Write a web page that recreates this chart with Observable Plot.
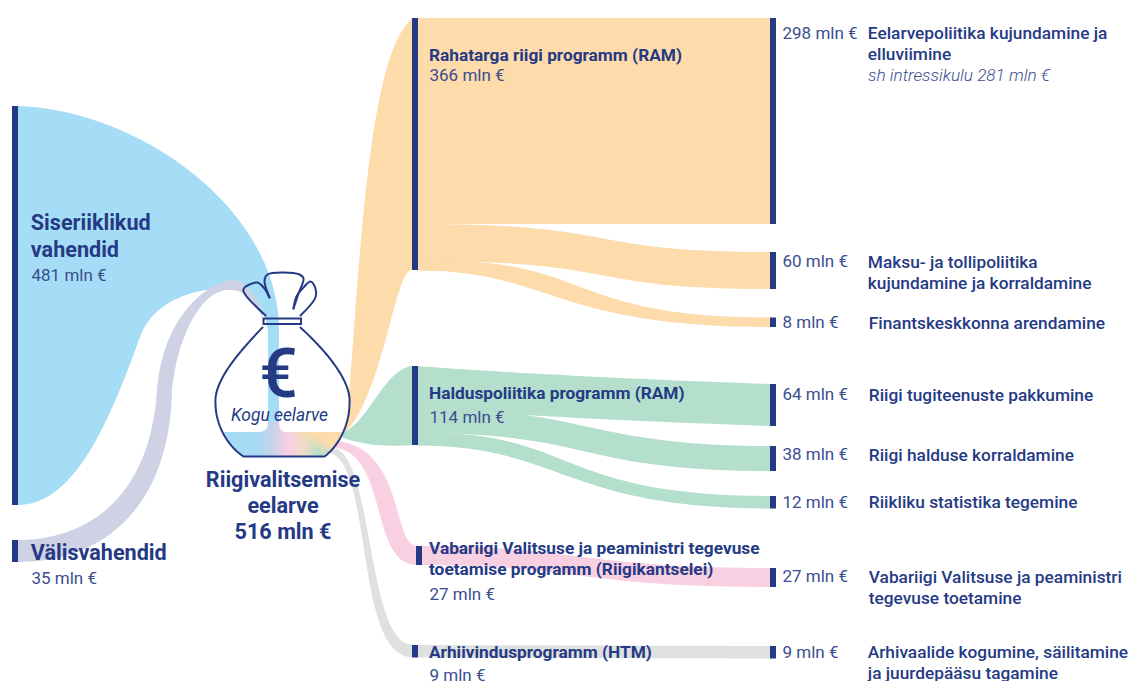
<!DOCTYPE html>
<html lang="et">
<head>
<meta charset="utf-8">
<style>html,body{margin:0;padding:0;background:#fff;overflow:hidden}svg{display:block}</style>
<script src="https://cdn.jsdelivr.net/npm/d3@7"></script>
<script src="https://cdn.jsdelivr.net/npm/@observablehq/plot@0.6"></script>
</head>
<body>
<script>
// ---------- Data (mln €) ----------
const budgetName = "Riigivalitsemise\neelarve";
const budgetTotal = 516;
const sourceNames = ["Siseriiklikud\nvahendid", "Välisvahendid"];
const sourceValues = [481, 35];
const programNames = [
  "Rahatarga riigi programm (RAM)",
  "Halduspoliitika programm (RAM)",
  "Vabariigi Valitsuse ja peaministri tegevuse\ntoetamise programm (Riigikantselei)",
  "Arhiivindusprogramm (HTM)"
];
const programValues = [366, 114, 27, 9];
const outcomeNames = [
  "Eelarvepoliitika kujundamine ja\nelluviimine",
  "Maksu- ja tollipoliitika\nkujundamine ja korraldamine",
  "Finantskeskkonna arendamine",
  "Riigi tugiteenuste pakkumine",
  "Riigi halduse korraldamine",
  "Riikliku statistika tegemine",
  "Vabariigi Valitsuse ja peaministri\ntegevuse toetamine",
  "Arhivaalide kogumine, säilitamine\nja juurdepääsu tagamine"
];
const outcomeValues = [298, 60, 8, 64, 38, 12, 27, 9];
const outcomeProgram = [0, 0, 0, 1, 1, 1, 2, 3];
const interestNote = "sh intressikulu 281 mln €";

// ---------- Layout (separate from the data) ----------
const W = 1131, H = 681;
const navy = "#253a84", textBlue = "#3b4d90";
const thickness = d3.scaleLinear(
  [8, 9, 12, 27, 35, 38, 60, 64, 114, 298, 366, 481],
  [9.5, 12.5, 12.5, 19, 22, 25, 37, 42, 79, 206, 252, 399]
);
const barW = 6;
const sourceX = 12, sourceTops = [106, 540];
const programXs = [412, 412, 416, 412], programTops = [18, 366, 546, 645];
const outcomeX = 770, outcomeTops = [18, 252, 317.5, 384, 446, 496, 568, 646];
const programColors = ["#fddbaa", "#b4dfcd", "#f9cfe2", "#dfe1e0"];
const sourceColors = ["#a5dcf6", "#cfd1e4"];
const poolY = 432;

// outcome ribbons: bezier handles as fractions of the span [ax, ay, bx, by]
const outcomeBends = [
  {t: [.33, .33, .67, .67], b: [.33, .33, .67, .67]},
  {t: [.6, 0, .45, 1], b: [.6, 0, .45, 1]},
  {t: [.5, -.1, .4, 1], b: [.38, 0, .38, 1]},
  {t: [.3, .45, .7, .8], b: [.3, .45, .7, .8]},
  {t: [.48, 0, .48, 1], b: [.5, 0, .45, 1]},
  {t: [.45, -.05, .38, 1], b: [.41, 0, .41, 1]},
  {t: [.45, 0, .45, 1], b: [.45, 0, .45, 1]},
  {t: [.33, .33, .67, .67], b: [.33, .33, .67, .67]}
];
// program inflow ribbons from the bag: start point + handles to the bar
const inflowShapes = [
  {t0: [345, 432], t: [[358, 330, 362, 55]], b0: [345, 433], b: [[385, 390, 395, 265]]},
  {t0: [343, 433], t: [[370, 420, 385, 368]], b0: [343, 438], b: [[365, 445, 385, 447]]},
  {t0: [338, 441], t: [[405, 450, 392, 546]], b0: [331, 447], b: [[390, 450, 368, 565]]},
  {t0: [331, 447], t: [[375, 450, 365, 645]], b0: [326, 452], b: [[375, 455, 352, 658]]}
];
// source ribbons into the bag neck: handles with waypoints
const sourceShapes = [
  {tEnd: [279, 425], t: [[140, 110, 279, 210, 279, 330], [279, 360, 279, 395]],
   bEnd: [268, 425], b: [[70, 505, 105, 435, 140, 337], [150, 309, 180, 288, 233, 288], [250, 288, 268, 310, 268, 335], [268, 365, 268, 395]]},
  {tEnd: [263, 312], t: [[85, 540, 150, 500, 157, 390], [162, 320, 205, 282, 233, 280], [245, 280, 255, 295]],
   bEnd: [262, 318], b: [[110, 562, 170, 500, 172, 390], [178, 330, 205, 288, 230, 290], [245, 290, 255, 300]]}
];
// bag drawing
const bagLeftSegs = [[240, 350, 213, 380, 215, 403], [215, 422, 225, 444]];
const bagRightSegs = [[325, 350, 351, 380, 349, 403], [349, 422, 340, 444]];
const bagLeftEnds = [[262, 327], [243, 456]];
const bagRightEnds = [[300, 327], [324, 456]];
const flapParts = [
  [[265, 315], [243, 291], [244, 287], [249, 284], [257, 282], [264, 288], [269, 297]],
  [[269, 297], [264, 280], [267, 274], [299, 274], [303, 278], [298, 293], [293, 308]],
  [[293, 308], [296, 296], [303, 287], [310, 281], [315, 288], [315, 297], [300, 315]]
];

// ---------- Geometry helpers ----------
function edge(start, segs, end) {
  const pts = [];
  let p = start;
  segs.forEach((s, i) => {
    const q = s.length === 6 ? [s[4], s[5]] : end;
    const n = 36;
    for (let k = i === 0 ? 0 : 1; k <= n; ++k) {
      const t = k / n, u = 1 - t;
      pts.push([
        u*u*u*p[0] + 3*u*u*t*s[0] + 3*u*t*t*s[2] + t*t*t*q[0],
        u*u*u*p[1] + 3*u*u*t*s[1] + 3*u*t*t*s[3] + t*t*t*q[1]
      ]);
    }
    p = q;
  });
  return pts;
}
function band(top, bottom) {
  const n = Math.max(top.length, bottom.length);
  return d3.range(n).map(i => {
    const a = top[Math.round(i * (top.length - 1) / (n - 1))];
    const b = bottom[Math.round(i * (bottom.length - 1) / (n - 1))];
    return {x1: a[0], y1: a[1], x2: b[0], y2: b[1]};
  });
}
function fracEdge(x0, y0, x1, y1, f) {
  const dx = x1 - x0, dy = y1 - y0;
  return edge([x0, y0], [[x0 + f[0]*dx, y0 + f[1]*dy, x0 + f[2]*dx, y0 + f[3]*dy]], [x1, y1]);
}
const ribbonMark = (rows, fill) =>
  Plot.area(rows, {x1: "x1", y1: "y1", x2: "x2", y2: "y2", fill, curve: "linear"});

// ---------- Derived from values ----------
const sourceBars = sourceValues.map((v, i) => ({x1: sourceX, x2: sourceX + barW, y1: sourceTops[i], y2: sourceTops[i] + thickness(v)}));
const programBars = programValues.map((v, i) => ({x1: programXs[i], x2: programXs[i] + barW, y1: programTops[i], y2: programTops[i] + thickness(v)}));
const outcomeBars = outcomeValues.map((v, i) => ({x1: outcomeX, x2: outcomeX + barW, y1: outcomeTops[i], y2: outcomeTops[i] + thickness(v)}));

const sourceBands = sourceBars.map((b, i) => {
  const s = sourceShapes[i];
  return band(edge([b.x2, b.y1], s.t, s.tEnd), edge([b.x2, b.y2], s.b, s.bEnd));
});
const inflowBands = programBars.map((b, i) => {
  const s = inflowShapes[i];
  return band(edge(s.t0, s.t, [b.x1 + 1, b.y1]), edge(s.b0, s.b, [b.x1 + 1, b.y2]));
});
const stack = programBars.map(b => b.y1);
const outcomeBands = outcomeBars.map((o, i) => {
  const p = programBars[outcomeProgram[i]];
  const y0 = stack[outcomeProgram[i]], h = thickness(outcomeValues[i]);
  stack[outcomeProgram[i]] += h;
  const f = outcomeBends[i];
  return band(fracEdge(p.x2 - 1, y0, o.x1 + 1, o.y1, f.t), fracEdge(p.x2 - 1, y0 + h, o.x1 + 1, o.y2, f.b));
});

const bagLeft = edge(bagLeftEnds[0], bagLeftSegs, bagLeftEnds[1]);
const bagRight = edge(bagRightEnds[0], bagRightSegs, bagRightEnds[1]);
const poolBottom = [...bagLeft.filter(p => p[1] >= poolY), ...bagRight.filter(p => p[1] >= poolY).reverse()];
const poolTop = poolBottom.map((p, i, a) => [a[0][0] + (a[a.length-1][0] - a[0][0]) * i / (a.length - 1), poolY]);
const flare = band(
  edge([258, poolY], [[264, poolY, 268, 430]], [268, 422]),
  edge([287, poolY], [[282, poolY, 279, 430]], [279, 422])
);
const bagOutline = [...bagLeft, ...bagRight.slice().reverse()].map(([x, y]) => ({x, y, z: "body"}));
const flapLines = flapParts.flatMap((part, i) => part.map(([x, y]) => ({x, y, z: "flap" + i})));

// gradient definitions
function defs() {
  const ns = "http://www.w3.org/2000/svg";
  const g = document.createElementNS(ns, "defs");
  g.innerHTML = `
  <linearGradient id="poolBase" gradientUnits="userSpaceOnUse" x1="222" y1="0" x2="343" y2="0">
    <stop offset="0" stop-color="#a5dcf6"/><stop offset=".3" stop-color="#a9daf4"/>
    <stop offset=".44" stop-color="#d0d1e8"/><stop offset=".55" stop-color="#f9cfe2"/>
    <stop offset=".68" stop-color="#efdcc8"/><stop offset=".8" stop-color="#b4dfcd"/>
    <stop offset="1" stop-color="#b4dfcd"/>
  </linearGradient>
  <linearGradient id="poolOrange" gradientUnits="userSpaceOnUse" x1="320" y1="430" x2="305" y2="452">
    <stop offset=".25" stop-color="#fddbaa" stop-opacity="1"/>
    <stop offset=".75" stop-color="#fddbaa" stop-opacity="0"/>
  </linearGradient>`;
  return g;
}

// ---------- Labels ----------
const mln = v => `${v} mln €`;
const F = "Roboto, sans-serif";
const txt = (rows, o) => Plot.text(rows, {x: "x", y: "y", text: "t", fontFamily: F, textAnchor: "start", lineAnchor: "middle", ...o});

const sourceLabelYs = [234, 550.5], sourceValueYs = [275, 578];
const programLabelYs = [54, 392, 557, 651], programValueYs = [75, 417, 594, 675];
const outcomeValueYs = [33, 261, 322, 394, 454, 502, 576, 652];
const outcomeLabelYs = [42.5, 271.5, 322, 394, 454, 501, 586.5, 661.5];
const outcomeLabelXs = [867.3, 867.3, 868.3, 868.3, 868.3, 868.3, 868.3, 867.3];

const plot = Plot.plot({
  width: W, height: H,
  margin: 0,
  style: {background: "#fff"},
  x: {domain: [0, W], range: [0, W], axis: null},
  y: {domain: [0, H], range: [0, H], axis: null},
  marks: [
    defs,
    // ribbons, back to front
    ribbonMark(sourceBands[0], sourceColors[0]),
    ribbonMark(sourceBands[1], sourceColors[1]),
    ribbonMark(inflowBands[3], programColors[3]),
    ribbonMark(inflowBands[2], programColors[2]),
    ribbonMark(inflowBands[0], programColors[0]),
    ribbonMark(inflowBands[1], programColors[1]),
    ...outcomeBands.map((rows, i) => ribbonMark(rows, programColors[outcomeProgram[i]])),
    // bag interior
    ribbonMark(band(bagLeft.filter(p => p[1] >= 360), bagRight.filter(p => p[1] >= 360)), "#fff"),
    ribbonMark(band(edge([268, 360], [[268, 380, 268, 400]], [268, 425]), edge([279, 360], [[279, 380, 279, 400]], [279, 425])), sourceColors[0]),
    ribbonMark(flare, "url(#poolBase)"),
    ribbonMark(band(poolTop, poolBottom), "url(#poolBase)"),
    ribbonMark(band(poolTop, poolBottom), "url(#poolOrange)"),
    // bars
    Plot.rect([...sourceBars, ...programBars, ...outcomeBars], {x1: "x1", x2: "x2", y1: "y1", y2: "y2", fill: navy}),
    // bag outline
    Plot.line(bagOutline, {x: "x", y: "y", z: "z", stroke: navy, strokeWidth: 2, curve: "linear"}),
    Plot.line(flapLines, {x: "x", y: "y", z: "z", stroke: navy, strokeWidth: 2, curve: "catmull-rom", strokeLinejoin: "round"}),
    Plot.rect([{x1: 263.5, x2: 301, y1: 318.5, y2: 324}], {x1: "x1", x2: "x2", y1: "y1", y2: "y2", fill: "none", stroke: navy, strokeWidth: 2}),
    Plot.text(["€"], {x: 278, y: 375, fontFamily: F, fontSize: 68, fontWeight: 500, fill: navy, lineAnchor: "middle"}),
    Plot.text(["Kogu eelarve"], {x: 279, y: 415, fontFamily: F, fontSize: 17.4, fontStyle: "italic", fill: navy, lineAnchor: "middle"}),
    // labels
    Plot.text([`${budgetName}\n${mln(budgetTotal)}`], {x: 282.5, y: 504, fontFamily: F, fontSize: 21.6, fontWeight: 700, fill: navy, lineHeight: 1.21, lineAnchor: "middle"}),
    txt(sourceNames.map((t, i) => ({t, x: 30.3, y: sourceLabelYs[i]})), {fontSize: 21.6, fontWeight: 700, fill: navy, lineHeight: 1.25}),
    txt(sourceValues.map((v, i) => ({t: mln(v), x: 31, y: sourceValueYs[i]})), {fontSize: 17, fill: textBlue}),
    txt(programNames.map((t, i) => ({t, x: 428.5, y: programLabelYs[i]})), {fontSize: 17.3, fontWeight: 700, fill: navy, lineHeight: 1.21}),
    txt(programValues.map((v, i) => ({t: mln(v), x: 429, y: programValueYs[i]})), {fontSize: 17, fill: textBlue}),
    txt(outcomeValues.map((v, i) => ({t: mln(v), x: 782, y: outcomeValueYs[i]})), {fontSize: 17, fill: textBlue}),
    txt(outcomeNames.map((t, i) => ({t, x: outcomeLabelXs[i], y: outcomeLabelYs[i]})), {fontSize: 17.3, fontWeight: 500, fill: navy, lineHeight: 1.21}),
    txt([{t: interestNote, x: 867.5, y: 75}], {fontSize: 17.2, fontStyle: "italic", fontWeight: 300, fill: textBlue})
  ]
});
document.body.appendChild(plot);
</script>
</body>
</html>
